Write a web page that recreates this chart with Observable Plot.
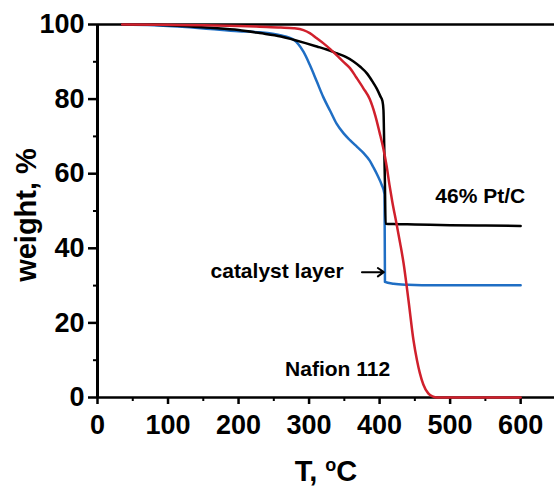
<!DOCTYPE html>
<html>
<head>
<meta charset="utf-8">
<script src="https://cdn.jsdelivr.net/npm/d3@7"></script>
<script src="https://cdn.jsdelivr.net/npm/@observablehq/plot@0.6"></script>
<style>
  html, body { margin: 0; padding: 0; background: #fff; }
</style>
</head>
<body>
<div id="chart"></div>
<script>
// 46% Pt/C (black)
const ptT = [35, 80, 120, 160, 200, 230, 260, 278, 295, 311, 325, 339, 352, 363, 373, 382, 390, 396, 401, 404, 405.5, 406.5, 407.5, 408.5, 420, 450, 500, 550, 600];
const ptW = [100, 99.9, 99.6, 99.1, 98.5, 97.7, 96.8, 95.9, 95.0, 94.1, 93.3, 92.3, 91.3, 90.1, 88.6, 86.9, 84.7, 82.8, 80.8, 79.5, 77, 68, 58, 46.6, 46.5, 46.4, 46.2, 46.1, 46.0];
// catalyst layer (blue)
const clT = [35, 80, 120, 160, 200, 230, 259, 278, 292, 301, 311, 320, 330, 339, 349, 358, 368, 377, 386, 391, 397, 403, 407, 407.6, 420, 440, 460, 500, 550, 600];
const clW = [100, 99.8, 99.4, 98.8, 98.2, 97.9, 97.1, 95.9, 92.7, 89.2, 84.7, 80.6, 76.8, 73.4, 70.8, 69.0, 67.2, 65.6, 63.5, 61.8, 59.6, 57.0, 54.5, 31.0, 30.5, 30.2, 30.1, 30.1, 30.1, 30.1];
// Nafion 112 (red)
const nfT = [35, 100, 150, 200, 230, 260, 278, 292, 301, 311, 320, 330, 339, 348, 358, 367, 377, 386, 394, 400, 405, 410, 414, 418, 424, 429, 434, 441, 448, 453, 457, 462, 469, 475, 482, 500, 550, 600];
const nfW = [100, 99.9, 99.8, 99.6, 99.4, 99.2, 99.0, 98.5, 97.7, 96.3, 95.0, 93.4, 91.8, 90.1, 88.3, 85.8, 82.9, 80.0, 75.5, 71.0, 67.0, 62.0, 57.0, 52.5, 46.6, 41.5, 36.0, 26.0, 15.4, 10.0, 6.6, 3.5, 1.1, 0.3, 0, 0, 0, 0];

const xMajor = [0, 100, 200, 300, 400, 500, 600];
const xMinor = [50, 150, 250, 350, 450, 550];
const yMajor = [0, 20, 40, 60, 80, 100];
const yMinor = [10, 30, 50, 70, 90];

const labelTexts = ["46% Pt/C", "catalyst layer", "Nafion 112"];
const labelT = [479, 349, 266];
const labelW = [54, 33.8, 7.6];
const labelAnchor = ["start", "end", "start"];

const arrowFrom = [375, 33.6];
const arrowTo = [406, 33.6];

const series = (T, W) => T.map((t, i) => ({T: t, W: W[i]}));
const pt = series(ptT, ptW);
const cl = series(clT, clW);
const nf = series(nfT, nfW);
const labels = labelTexts.map((s, i) => ({text: s, T: labelT[i], W: labelW[i], anchor: labelAnchor[i]}));

const font = "'Liberation Sans', Arial, Helvetica, sans-serif";

const chart = Plot.plot({
  width: 554,
  height: 487,
  marginLeft: 97,
  marginRight: 0,
  marginTop: 24,
  marginBottom: 90,
  style: {fontFamily: font, fontWeight: "bold", background: "#fff", color: "#000"},
  x: {domain: [0, 648]},
  y: {domain: [0, 100]},
  marks: [
    Plot.axisX(xMinor, {tickSize: 4, tickFormat: () => "", label: null, strokeWidth: 2}),
    Plot.axisX(xMajor, {tickSize: 7, tickPadding: 10, fontSize: 27, fontWeight: "bold", strokeWidth: 2.5, label: null, tickFormat: d => String(d)}),
    Plot.axisY(yMinor, {tickSize: 4, tickFormat: () => "", label: null, strokeWidth: 2}),
    Plot.axisY(yMajor, {tickSize: 9, tickPadding: 4, fontSize: 27, fontWeight: "bold", strokeWidth: 2.5, label: null, tickFormat: d => String(d)}),
    Plot.ruleY([0, 100], {stroke: "#000", strokeWidth: 2.5}),
    Plot.ruleX([0], {stroke: "#000", strokeWidth: 3}),
    Plot.line(cl, {x: "T", y: "W", stroke: "#1f6ec4", strokeWidth: 2.5, curve: "monotone-x"}),
    Plot.line(pt, {x: "T", y: "W", stroke: "#000000", strokeWidth: 2.5, curve: "monotone-x"}),
    Plot.line(nf, {x: "T", y: "W", stroke: "#d0202c", strokeWidth: 2.5, curve: "monotone-x"}),
    Plot.text(labels.filter(d => d.anchor === "start"), {x: "T", y: "W", text: "text", textAnchor: "start", fontSize: 21, fontWeight: "bold", fill: "#000"}),
    Plot.text(labels.filter(d => d.anchor === "end"), {x: "T", y: "W", text: "text", textAnchor: "end", fontSize: 21, fontWeight: "bold", fill: "#000"}),
    Plot.arrow([{x1: arrowFrom[0], y1: arrowFrom[1], x2: arrowTo[0], y2: arrowTo[1]}], {x1: "x1", y1: "y1", x2: "x2", y2: "y2", stroke: "#000", strokeWidth: 2, headLength: 7, headAngle: 70}),
    Plot.text(["weight, %"], {frameAnchor: "left", textAnchor: "middle", dx: -71, dy: 4, rotate: -90, fontSize: 29, fontWeight: "bold", fill: "#000"}),
    Plot.text(["T, °C"], {frameAnchor: "bottom", textAnchor: "middle", dx: 0, dy: 83, fontSize: 29, fontWeight: "bold", fill: "#000"})
  ]
});

// render the degree as a raised small "o", as in the reference
d3.select(chart).selectAll("text").filter(function() { return this.textContent === "T, °C"; })
  .each(function() {
    const t = d3.select(this);
    t.text(null);
    t.append("tspan").text("T, ");
    t.append("tspan").attr("font-size", 18).attr("dy", -10).text("o");
    t.append("tspan").attr("dy", 10).text("C");
  });

document.getElementById("chart").appendChild(chart);
</script>
</body>
</html>
